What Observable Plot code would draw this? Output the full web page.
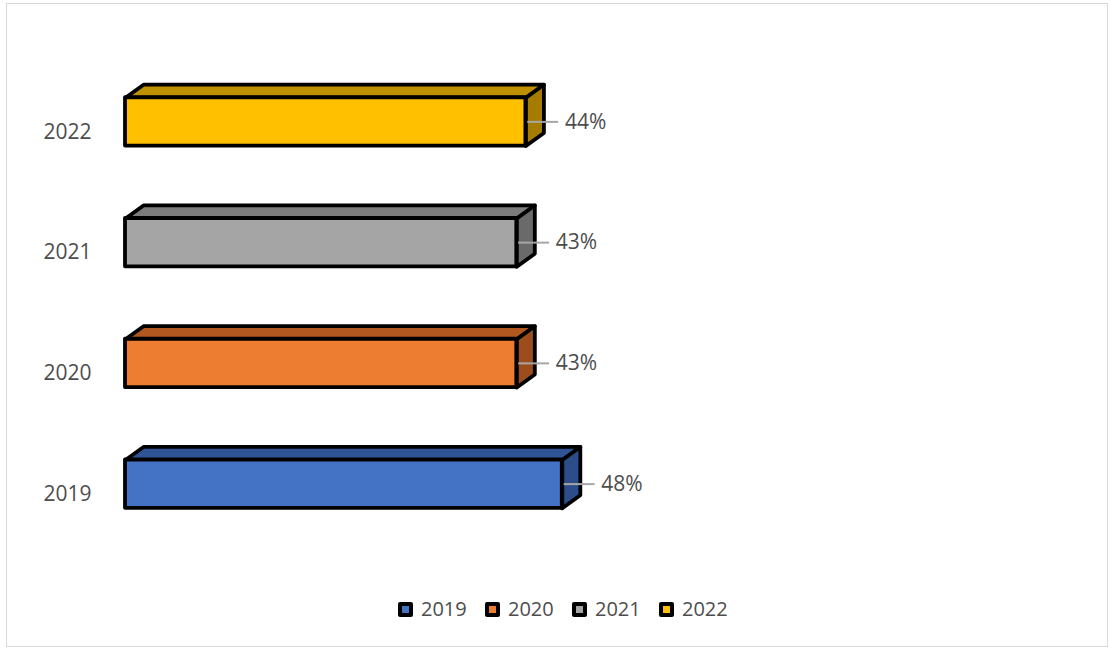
<!DOCTYPE html>
<html>
<head>
<meta charset="utf-8">
<script src="https://cdn.jsdelivr.net/npm/d3@7"></script>
<script src="https://cdn.jsdelivr.net/npm/@observablehq/plot@0.6"></script>
<style>
  html, body { margin: 0; padding: 0; background: #fff; }
  #wrap { position: relative; width: 1110px; height: 649px; overflow: hidden; font-family: "Open Sans", "Noto Sans", sans-serif; }
  #frame { position: absolute; left: 6px; top: 3px; width: 1102px; height: 644px; box-sizing: border-box; border: 1px solid #d9d9d9; }
  #chart { position: absolute; left: 0; top: 0; }
  #legend { position: absolute; left: 398px; top: 594px; display: flex; font-size: 20px; color: #4d4d4d; line-height: 30px; }
  .item { display: flex; align-items: center; width: 87px; }
  .sw { width: 7px; height: 7px; border: 4px solid #000; border-radius: 2px; margin-right: 8px; }
</style>
</head>
<body>
<div id="wrap">
  <div id="frame"></div>
  <div id="chart"></div>
  <div id="legend"></div>
</div>
<script>
const years = ["2019", "2020", "2021", "2022"];
const values = [48, 43, 43, 44];
const frontColors = ["#4472C4", "#ED7D31", "#A5A5A5", "#FFC000"];
const topColors = ["#2F5597", "#B0581F", "#7C7C7C", "#BF9000"];
const sideColors = ["#2B4D8A", "#9C4D1B", "#6A6A6A", "#A57C00"];

// 3D geometry (data units)
const H = 0.2, DX = 1.98, DY = 0.108;

const rows = years.map((year, i) => ({year, i, v: values[i], front: frontColors[i], top: topColors[i], side: sideColors[i]}));

const faceMarks = rows.flatMap(r => {
  const topPts = [[0, r.i + H], [r.v, r.i + H], [r.v + DX, r.i + H + DY], [DX, r.i + H + DY], [0, r.i + H]]
    .map(([x, y]) => ({x, y}));
  const sidePts = [[r.v, r.i - H], [r.v + DX, r.i - H + DY], [r.v + DX, r.i + H + DY], [r.v, r.i + H], [r.v, r.i - H]]
    .map(([x, y]) => ({x, y}));
  const common = {x: "x", y: "y", stroke: "#000", strokeWidth: 3.8, strokeLinejoin: "round", curve: "linear"};
  return [
    Plot.line(topPts, {...common, fill: r.top}),
    Plot.line(sidePts, {...common, fill: r.side})
  ];
});

const chart = Plot.plot({
  width: 1110,
  height: 590,
  marginLeft: 125,
  marginRight: 75,
  marginTop: 61,
  marginBottom: 46,
  style: {fontFamily: '"Open Sans", "Noto Sans", sans-serif', fontSize: "21px", background: "transparent"},
  x: {domain: [0, 100], axis: null},
  y: {domain: [-0.5, 3.5], axis: null},
  color: {type: "identity"},
  marks: [
    ...faceMarks,
    Plot.rect(rows, {x1: 0, x2: "v", y1: d => d.i - H, y2: d => d.i + H, fill: "front", stroke: "#000", strokeWidth: 3.8, strokeLinejoin: "round"}),
    Plot.ruleY(rows, {y: "i", x1: d => d.v + 0.2, x2: d => d.v + 3.6, stroke: "#a6a6a6", strokeWidth: 2}),
    Plot.text(rows, {x: "v", y: "i", text: d => d.v + "%", dx: 39, textAnchor: "start", fontSize: 21, fill: "#4d4d4d"}),
    Plot.axisY([0, 1, 2, 3], {tickFormat: i => years[i], tickSize: 0, tickPadding: 34, dy: 10, fontSize: 21, color: "#4d4d4d", label: null})
  ]
});
document.getElementById("chart").appendChild(chart);

const legend = document.getElementById("legend");
rows.forEach(r => {
  const item = document.createElement("div");
  item.className = "item";
  const sw = document.createElement("span");
  sw.className = "sw";
  sw.style.background = r.front;
  const t = document.createElement("span");
  t.textContent = r.year;
  item.appendChild(sw);
  item.appendChild(t);
  legend.appendChild(item);
});
</script>
</body>
</html>
